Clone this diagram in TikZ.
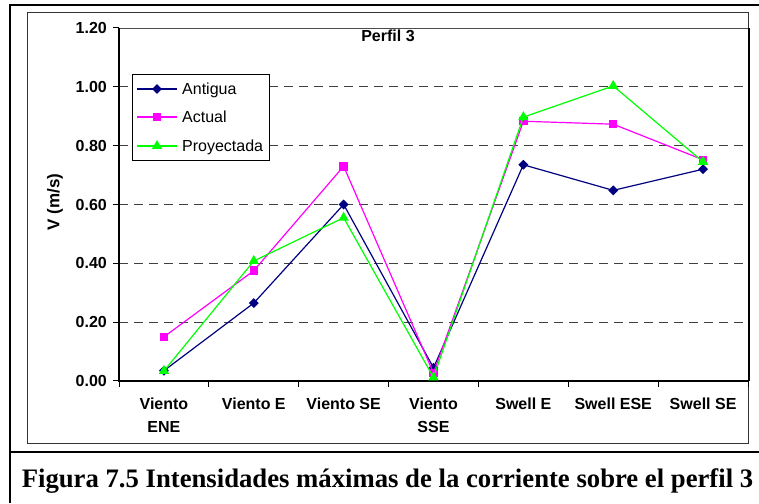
\documentclass[tikz,border=0pt]{standalone}
\usepackage{fontspec}
\setmainfont{Liberation Serif}
\newfontfamily\arialfont{Liberation Sans}
\usepackage{tikz}
\usetikzlibrary{shapes.geometric}
\definecolor{antcolor}{RGB}{0,0,128}
\definecolor{actcolor}{RGB}{255,0,255}
\definecolor{proycolor}{RGB}{0,255,0}

\begin{document}
\begin{tikzpicture}[x=1pt,y=1pt,
    ticklabel/.style={font=\arialfont\fontsize{16}{23}\selectfont\bfseries,inner sep=0pt},
    grid line/.style={black!75,dash pattern=on 9pt off 6pt,line width=0.8pt},
    series/.style={line width=1.2pt},
    antdot/.style={diamond,fill=antcolor,inner sep=0pt,minimum size=10pt},
    actdot/.style={rectangle,fill=actcolor,inner sep=0pt,minimum size=8.5pt},
    proydot/.style={regular polygon,regular polygon sides=3,fill=proycolor,inner sep=0pt,minimum size=12pt}
]
\useasboundingbox (0,0) rectangle (759,503);
\draw[line width=2pt] (10,0) -- (10,498) -- (759,498);
\draw[line width=2pt] (10,51) -- (759,51);
\draw[black!80,line width=1pt] (27,60) rectangle (748,490);

\begin{scope}[shift={(119pt,122pt)},x=89.857pt,y=294.17pt]
\foreach \v in {0.2,0.4,0.6,0.8,1.0}
  \draw[grid line] (0,\v) -- (7,\v);
\draw[black!70,line width=0.6pt] (0,1.2) -- (7,1.2);
\draw[line width=2pt] ([xshift=1pt]7,1.2) -- ([xshift=1pt]7,0);
\draw[line width=1.3pt] (0,1.2) -- (0,0) -- (7,0);
\foreach \v/\t [count=\k] in {0/0.00,0.2/0.20,0.4/0.40,0.6/0.60,0.8/0.80,1/1.00,1.2/1.20}{
  \draw[line width=1pt] (0,\v) -- ++(-6pt,0);
  \node[ticklabel,anchor=east] (ylab\k) at ([xshift=-12pt]0,\v) {\t};
}
\foreach \k in {0,...,7}
  \draw[line width=1pt] (\k,0) -- ++(0,-6pt);
\foreach \c [count=\k] in {Viento\\ENE,Viento E,Viento SE,Viento\\SSE,Swell E,Swell ESE,Swell SE}
  \node[ticklabel,anchor=north,align=center] (cat\k) at ([yshift=-17pt]\k-0.5,0) {\c};

\foreach \v [count=\k] in {0.035,0.265,0.600,0.045,0.735,0.648,0.720}
  \coordinate (ant\k) at (\k-0.5,\v);
\draw[series,antcolor] (ant1) -- (ant2) -- (ant3) -- (ant4) -- (ant5) -- (ant6) -- (ant7);
\foreach \k in {1,...,7} \node[antdot] (antm\k) at (ant\k) {};

\foreach \v [count=\k] in {0.150,0.375,0.730,0.027,0.883,0.873,0.752}
  \coordinate (act\k) at (\k-0.5,\v);
\draw[series,actcolor] (act1) -- (act2) -- (act3) -- (act4) -- (act5) -- (act6) -- (act7);
\foreach \k in {1,...,7} \node[actdot] (actm\k) at (act\k) {};

\foreach \v [count=\k] in {0.034,0.408,0.555,0.012,0.897,1.003,0.745}
  \coordinate (proy\k) at (\k-0.5,\v);
\draw[series,proycolor] (proy1) -- (proy2) -- (proy3) -- (proy4) -- (proy5) -- (proy6) -- (proy7);
\foreach \k in {1,...,7} \node[proydot] (proym\k) at (proy\k) {};
\end{scope}

\node[font=\arialfont\fontsize{16}{18}\selectfont\bfseries] (titulo) at (388,467) {Perfil 3};
\node[font=\arialfont\fontsize{17}{20}\selectfont\bfseries,rotate=90] (vlabel) at (55,301) {V (m/s)};

\draw[line width=0.8pt,fill=white] (132,343) rectangle (269,429);
\foreach \y/\st/\dt/\t [count=\k] in {414/antcolor/antdot/Antigua,386/actcolor/actdot/Actual,357/proycolor/proydot/Proyectada}{
  \coordinate (leg\k a) at (137,\y);
  \coordinate (leg\k b) at (177,\y);
  \draw[series,\st] (leg\k a) -- (leg\k b);
  \node[\dt] (legm\k) at (157,\y) {};
  \node[anchor=base west,inner sep=0pt,font=\arialfont\fontsize{16}{19}\selectfont] (legt\k) at (182,\y-5.5) {\t};
}

\node[font=\bfseries\fontsize{26.7}{30}\selectfont,anchor=base] (caption) at (387.5,16) {Figura 7.5 Intensidades máximas de la corriente sobre el perfil 3};
\end{tikzpicture}
\end{document}
